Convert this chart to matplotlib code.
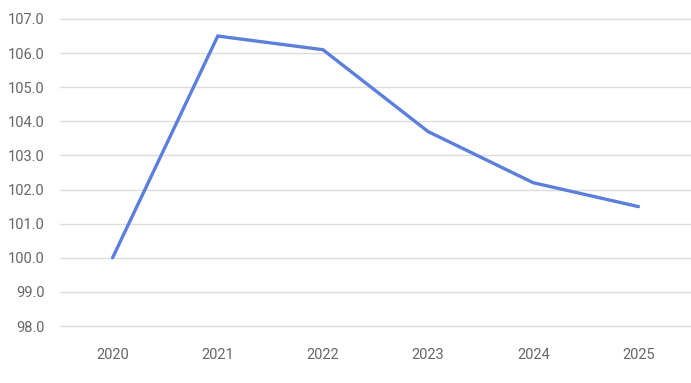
import matplotlib
matplotlib.use("Agg")
import matplotlib.pyplot as plt

years = ["2020", "2021", "2022", "2023", "2024", "2025"]
values = [100.0, 106.5, 106.1, 103.7, 102.2, 101.5]
yticks = [98, 99, 100, 101, 102, 103, 104, 105, 106, 107]

plt.rcParams['font.family'] = ['Roboto', 'DejaVu Sans']

W, H = 691, 383
fig = plt.figure(figsize=(W/100, H/100), dpi=100)
left, right, top, bottom = 60, 691, 19, 326
ax = fig.add_axes([left/W, 1 - bottom/H, (right-left)/W, (bottom-top)/H])

x = list(range(len(years)))
ax.plot(x, values, color="#5B7FDB", linewidth=2.4, solid_capstyle="round", solid_joinstyle="miter", zorder=3)

ax.set_xlim(-0.5, len(years) - 0.5)
ax.set_ylim(98, 107)
ax.set_yticks(yticks)
ax.set_yticklabels([f"{v:.1f}" for v in yticks])
ax.set_xticks(x)
ax.set_xticklabels(years)

ax.grid(axis="y", color="#DCDCDC", linewidth=1.0, zorder=0)
ax.grid(axis="x", visible=False)
for gl in ax.get_ygridlines():
    gl.set_clip_on(False)
for s in ax.spines.values():
    s.set_visible(False)
ax.tick_params(axis="both", length=0, labelsize=10.5, colors="#666666")
ax.tick_params(axis="y", pad=11)
ax.tick_params(axis="x", pad=15.5)

fig.savefig("out.png", dpi=100)
